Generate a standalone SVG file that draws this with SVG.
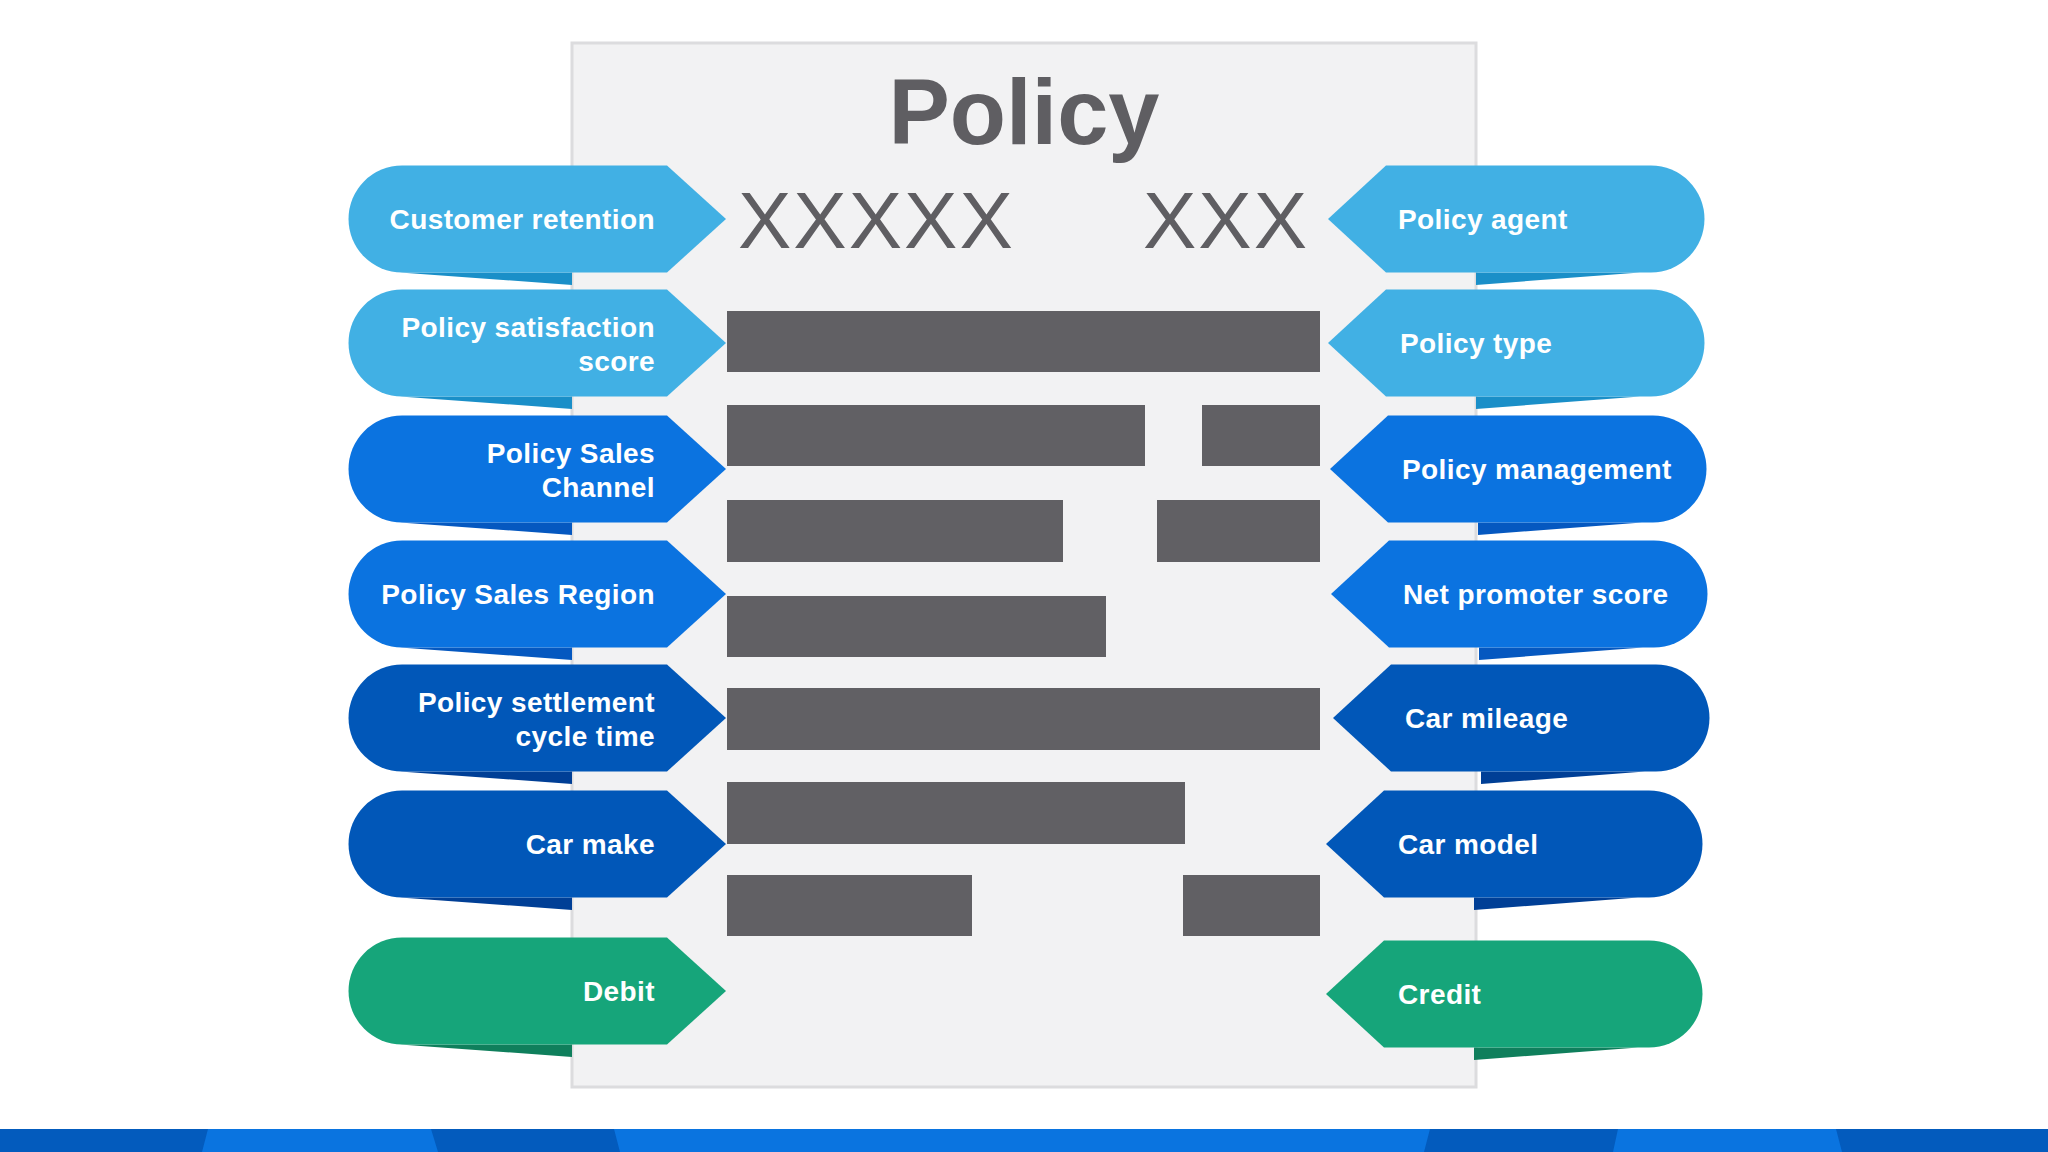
<svg xmlns="http://www.w3.org/2000/svg" width="2048" height="1152" viewBox="0 0 2048 1152">
<style>
.t{font-family:"Liberation Sans",Arial,sans-serif;font-weight:bold;font-size:28px;fill:#fff;letter-spacing:0.4px}
.l{text-anchor:end}
.bar{fill:#616064}
.x{font-family:"Liberation Sans",Arial,sans-serif;font-size:80px;fill:#5f5e62;letter-spacing:2px}
</style>
<defs>
<path id="L" d="M402,-53.5 H667 L726,0 L667,53.5 H402 A53.5,53.5 0 0 1 402,-53.5 Z"/>
<path id="LT" d="M400,53.5 L572,53.5 L572,66 Z"/>
<path id="R" d="M1651,-53.5 H1386 L1328,0 L1386,53.5 H1651 A53.5,53.5 0 0 0 1651,-53.5 Z"/>
<path id="RT" d="M1640,53.5 L1476,53.5 L1476,66 Z"/>
</defs>
<rect width="2048" height="1152" fill="#fff"/>
<rect x="572" y="43" width="904" height="1044" fill="#f2f2f3" stroke="#dcdcde" stroke-width="3"/>
<text x="1024" y="144" text-anchor="middle" font-family="Liberation Sans,Arial,sans-serif" font-weight="bold" font-size="92" fill="#5f5e62">Policy</text>
<text class="x" x="738" y="248">XXXXX</text>
<text class="x" x="1143" y="248">XXX</text>
<rect class="bar" x="727" y="311" width="593" height="61"/>
<rect class="bar" x="727" y="405" width="418" height="61"/>
<rect class="bar" x="1202" y="405" width="118" height="61"/>
<rect class="bar" x="727" y="500" width="336" height="62"/>
<rect class="bar" x="1157" y="500" width="163" height="62"/>
<rect class="bar" x="727" y="596" width="379" height="61"/>
<rect class="bar" x="727" y="688" width="593" height="62"/>
<rect class="bar" x="727" y="782" width="458" height="62"/>
<rect class="bar" x="727" y="875" width="245" height="61"/>
<rect class="bar" x="1183" y="875" width="137" height="61"/>
<g id="n1" transform="translate(0,219)"><use href="#LT" fill="#1a8fc8"/><use href="#L" fill="#41b0e4"/><text class="t l" x="655" y="10">Customer retention</text></g>
<g id="n2" transform="translate(0,343)"><use href="#LT" fill="#1a8fc8"/><use href="#L" fill="#41b0e4"/><text class="t l" x="655" y="-6">Policy satisfaction</text><text class="t l" x="655" y="28">score</text></g>
<g id="n3" transform="translate(0,469)"><use href="#LT" fill="#0558c0"/><use href="#L" fill="#0b73e0"/><text class="t l" x="655" y="-6">Policy Sales</text><text class="t l" x="655" y="28">Channel</text></g>
<g id="n4" transform="translate(0,594)"><use href="#LT" fill="#0558c0"/><use href="#L" fill="#0b73e0"/><text class="t l" x="655" y="10">Policy Sales Region</text></g>
<g id="n5" transform="translate(0,718)"><use href="#LT" fill="#003f96"/><use href="#L" fill="#0157b8"/><text class="t l" x="655" y="-6">Policy settlement</text><text class="t l" x="655" y="28">cycle time</text></g>
<g id="n6" transform="translate(0,844)"><use href="#LT" fill="#003f96"/><use href="#L" fill="#0157b8"/><text class="t l" x="655" y="10">Car make</text></g>
<g id="n7" transform="translate(0,991)"><use href="#LT" fill="#0f7f5c"/><use href="#L" fill="#16a57a"/><text class="t l" x="655" y="10">Debit</text></g>
<g id="n8" transform="translate(0,219)"><use href="#RT" fill="#1a8fc8"/><use href="#R" fill="#41b0e4"/><text class="t" x="1398" y="10">Policy agent</text></g>
<g id="n9" transform="translate(0,343)"><use href="#RT" fill="#1a8fc8"/><use href="#R" fill="#41b0e4"/><text class="t" x="1400" y="10">Policy type</text></g>
<g id="n10" transform="translate(2,469)"><use href="#RT" fill="#0558c0"/><use href="#R" fill="#0b73e0"/><text class="t" x="1400" y="10">Policy management</text></g>
<g id="n11" transform="translate(3,594)"><use href="#RT" fill="#0558c0"/><use href="#R" fill="#0b73e0"/><text class="t" x="1400" y="10">Net promoter score</text></g>
<g id="n12" transform="translate(5,718)"><use href="#RT" fill="#003f96"/><use href="#R" fill="#0157b8"/><text class="t" x="1400" y="10">Car mileage</text></g>
<g id="n13" transform="translate(-2,844)"><use href="#RT" fill="#003f96"/><use href="#R" fill="#0157b8"/><text class="t" x="1400" y="10">Car model</text></g>
<g id="n14" transform="translate(-2,994)"><use href="#RT" fill="#0f7f5c"/><use href="#R" fill="#16a57a"/><text class="t" x="1400" y="10">Credit</text></g>
<g id="connectors"/>
<rect x="0" y="1129" width="2048" height="23" fill="#0a74e0"/>
<path d="M0,1129 H208 L202,1152 H0 Z M431,1129 H614 L620,1152 H438 Z M1430,1129 H1618 L1613,1152 H1424 Z M1836,1129 H2048 V1152 H1842 Z" fill="#035bbd"/>
</svg>
